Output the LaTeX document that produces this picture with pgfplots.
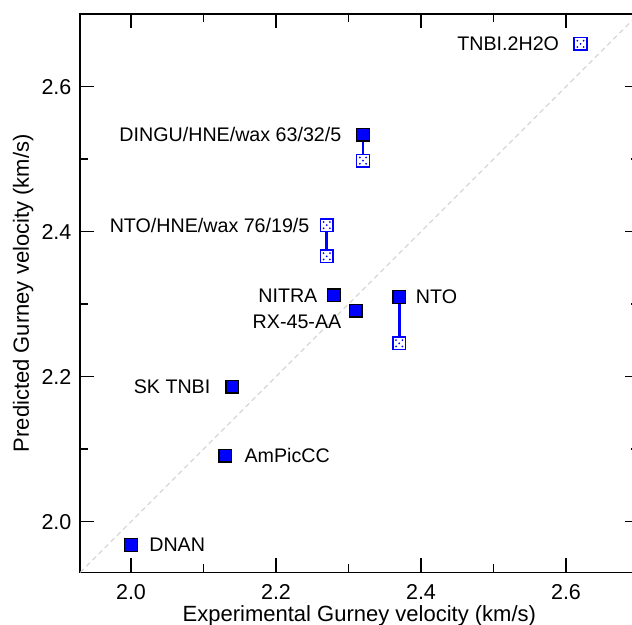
\documentclass[border=0pt]{standalone}
\usepackage{pgfplots}
\pgfplotsset{compat=1.18}
\usepackage{fontspec}
\setmainfont{Liberation Sans}
\definecolor{mblue}{RGB}{0,0,255}

\pgfdeclareplotmark{dotsq}{%
  \pgfpathrectangle{\pgfpoint{-\pgfplotmarksize}{-\pgfplotmarksize}}{\pgfpoint{2\pgfplotmarksize}{2\pgfplotmarksize}}%
  \pgfsetfillcolor{white}%
  \pgfusepathqfillstroke
  \pgfsetfillcolor{mblue}%
  \pgfpathcircle{\pgfpoint{-0.5\pgfplotmarksize}{0.5\pgfplotmarksize}}{0.6pt}%
  \pgfpathcircle{\pgfpoint{0.5\pgfplotmarksize}{0.5\pgfplotmarksize}}{0.6pt}%
  \pgfpathcircle{\pgfpoint{0pt}{0pt}}{0.6pt}%
  \pgfpathcircle{\pgfpoint{-0.5\pgfplotmarksize}{-0.5\pgfplotmarksize}}{0.6pt}%
  \pgfpathcircle{\pgfpoint{0.5\pgfplotmarksize}{-0.5\pgfplotmarksize}}{0.6pt}%
  \pgfusepathqfill
}

\pgfplotstableread{
x y
2.00 1.968
2.13 2.091
2.14 2.186
2.28 2.312
2.31 2.291
2.37 2.310
2.32 2.534
}\filled

\pgfplotstableread{
x y
2.37 2.246
2.32 2.498
2.27 2.409
2.27 2.366
2.62 2.659
}\opened

\begin{document}
\begin{tikzpicture}
\begin{axis}[name=ax, scale only axis, width=335pt, height=335pt,
  xmin=1.93, xmax=2.7, ymin=1.93, ymax=2.7,
  xtick={2.0,2.2,2.4,2.6}, ytick={2.0,2.2,2.4,2.6},
  minor xtick={2.1,2.3,2.5}, minor ytick={2.1,2.3,2.5},
  major tick length=8.4pt, minor tick length=4.8pt,
  tick style={black, line width=0.8pt},
  axis line style={black, line width=0.9pt},
  /pgf/number format/assume math mode=true,
  /pgf/number format/fixed, /pgf/number format/fixed zerofill, /pgf/number format/precision=1,
  ticklabel style={font=\fontsize{12.9}{15}\selectfont, inner sep=0pt},
  xticklabel style={anchor=north, yshift=-7.1pt},
  yticklabel style={anchor=east, xshift=-5.1pt},
  xlabel={Experimental Gurney velocity (km/s)},
  ylabel={Predicted Gurney velocity (km/s)},
  xlabel style={font=\fontsize{13.2}{15}\selectfont, inner sep=0pt, at={(axis description cs:0.5,-0.0583)}, anchor=north},
  ylabel style={font=\fontsize{13.2}{15}\selectfont, inner sep=0pt, at={(axis description cs:-0.121,0.5)}, anchor=north, rotate=0},
]
\addplot[gray!35, line width=0.6pt, dash pattern=on 3pt off 2.2pt] coordinates {(1.93,1.93) (2.7,2.7)};
\addplot[mblue, line width=1.7pt] coordinates {(2.32,2.534) (2.32,2.498)};
\addplot[mblue, line width=1.7pt] coordinates {(2.27,2.409) (2.27,2.366)};
\addplot[mblue, line width=1.7pt] coordinates {(2.37,2.310) (2.37,2.246)};
\addplot[only marks, mark=square*, mark size=3.8pt, mark options={fill=mblue, draw=black, line width=0.8pt}] table[x=x,y=y] {\filled};
\addplot[only marks, mark=dotsq, mark size=3.8pt, mark options={draw=mblue, line width=0.9pt}] table[x=x,y=y] {\opened};

\tikzset{lab/.style={font=\fontsize{11.8}{14}\selectfont, inner sep=0pt}}
\node[lab, anchor=west, xshift=10.8pt] at (axis cs:2.00,1.968) {DNAN};
\node[lab, anchor=west, xshift=11.4pt] at (axis cs:2.13,2.091) {AmPicCC};
\node[lab, anchor=east, xshift=-13.1pt] at (axis cs:2.14,2.186) {SK TNBI};
\node[lab, anchor=east, xshift=-9.8pt] at (axis cs:2.28,2.312) {NITRA};
\node[lab, anchor=east, xshift=-8.5pt, yshift=-6.5pt] at (axis cs:2.31,2.291) {RX-45-AA};
\node[lab, anchor=west, xshift=9.8pt] at (axis cs:2.37,2.310) {NTO};
\node[lab, anchor=east, xshift=-10.2pt] at (axis cs:2.27,2.409) {NTO/HNE/wax 76/19/5};
\node[lab, anchor=east, xshift=-12.8pt] at (axis cs:2.32,2.534) {DINGU/HNE/wax 63/32/5};
\node[lab, anchor=east, xshift=-12.7pt] at (axis cs:2.62,2.659) {TNBI.2H2O};
\end{axis}
\pgfresetboundingbox
\path[use as bounding box] ([xshift=-48.15pt, yshift=-31.5pt]ax.south west) rectangle ([xshift=-3.9pt, yshift=8.5pt]ax.north east);
\end{tikzpicture}
\end{document}
